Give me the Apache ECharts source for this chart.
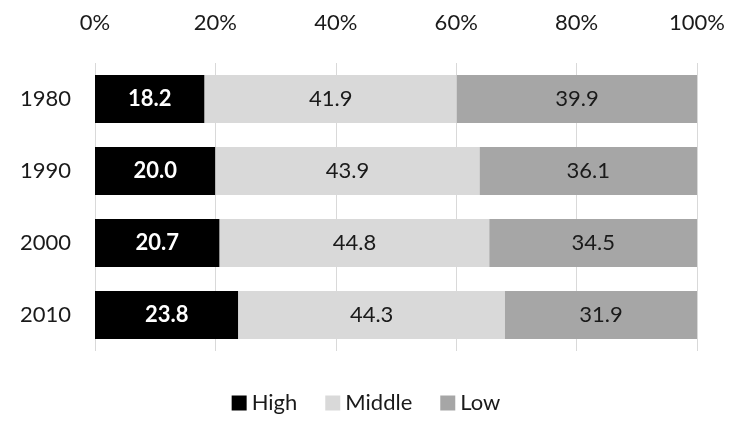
<!DOCTYPE html>
<html>
<head>
<meta charset="utf-8">
<script src="https://cdn.jsdelivr.net/npm/echarts@6/dist/echarts.min.js"></script>
<style>
  html, body { margin: 0; padding: 0; background: #fff; }
  #chart { width: 732px; height: 424px; }
</style>
</head>
<body>
<div id="chart"></div>
<script>
// Share of households by income group per decade (percent)
const years = ['1980', '1990', '2000', '2010'];
const high = [18.2, 20.0, 20.7, 23.8];
const middle = [41.9, 43.9, 44.8, 44.3];
const low = [39.9, 36.1, 34.5, 31.9];
const tickValues = [0, 20, 40, 60, 80, 100];

const FONT = 'Lato, "Liberation Sans", sans-serif';

function makeSeries(name, data, color, labelColor, weight) {
  return {
    name: name,
    type: 'bar',
    stack: 'share',
    data: data,
    barCategoryGap: '33%',
    itemStyle: { color: color },
    label: {
      show: true,
      position: 'inside',
      color: labelColor,
      fontFamily: FONT,
      fontSize: 22,
      fontWeight: weight,
      formatter: p => p.value.toFixed(1)
    }
  };
}

const chart = echarts.init(document.getElementById('chart'), null, { renderer: 'canvas' });
chart.setOption({
  animation: false,
  backgroundColor: '#ffffff',
  grid: { left: 95, right: 35, top: 63, height: 288 },
  legend: {
    bottom: 5,
    left: 'center',
    itemWidth: 15,
    itemHeight: 15,
    itemGap: 28,
    textStyle: { fontFamily: FONT, fontSize: 22, color: '#1a1a1a' },
    data: [
      { name: 'High', icon: 'rect' },
      { name: 'Middle', icon: 'rect' },
      { name: 'Low', icon: 'rect' }
    ]
  },
  xAxis: {
    type: 'value',
    position: 'top',
    min: 0,
    max: 100,
    interval: 20,
    axisLine: { show: false },
    axisTick: { show: false },
    axisLabel: {
      margin: 29,
      fontFamily: FONT,
      fontSize: 22,
      color: '#1a1a1a',
      formatter: v => tickValues.includes(v) ? v + '%' : ''
    },
    splitLine: { show: true, lineStyle: { color: '#d9d9d9', width: 1 } }
  },
  yAxis: {
    type: 'category',
    data: years,
    inverse: true,
    axisLine: { show: false },
    axisTick: { show: false },
    axisLabel: { margin: 24, fontFamily: FONT, fontSize: 22, color: '#1a1a1a' }
  },
  series: [
    makeSeries('High', high, '#000000', '#ffffff', 'bold'),
    makeSeries('Middle', middle, '#d9d9d9', '#1a1a1a', 'normal'),
    makeSeries('Low', low, '#a6a6a6', '#1a1a1a', 'normal')
  ]
});
</script>
</body>
</html>
